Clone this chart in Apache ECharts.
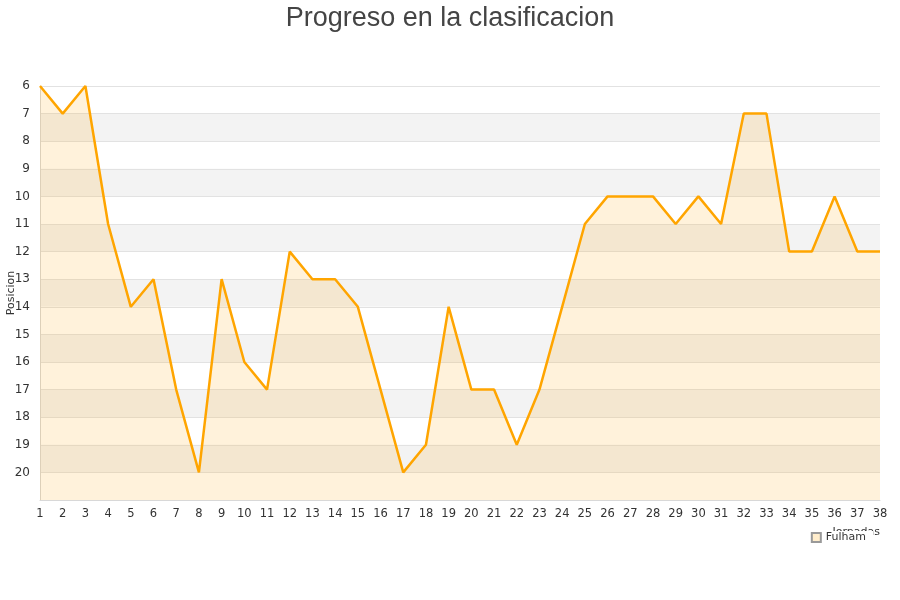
<!DOCTYPE html>
<html>
<head>
<meta charset="utf-8">
<script src="https://cdn.jsdelivr.net/npm/echarts@6/dist/echarts.min.js"></script>
<style>html,body{margin:0;padding:0;background:#fff}#c{width:900px;height:600px}</style>
</head>
<body>
<div id="c"></div>
<script>
var jornadas = ['1','2','3','4','5','6','7','8','9','10','11','12','13','14','15','16','17','18','19','20','21','22','23','24','25','26','27','28','29','30','31','32','33','34','35','36','37','38'];
var fulham = [6,7,6,11,14,13,17,20,13,16,17,12,13,13,14,17,20,19,14,17,17,19,17,14,11,10,10,10,11,10,11,7,7,12,12,10,12,12];
var seriesName = 'Fulham';
var titleText = 'Progreso en la clasificacion';

var chart = echarts.init(document.getElementById('c'), null, {renderer: 'canvas'});
chart.setOption({
  animation: false,
  backgroundColor: '#fff',
  title: {
    text: titleText, left: 'center', top: 0,
    textStyle: {fontFamily: 'Liberation Sans, Arial, sans-serif', fontSize: 27, fontWeight: 'normal', color: '#444'}
  },
  legend: {
    data: [{name: seriesName, icon: 'rect'}],
    right: 27, top: 531,
    itemWidth: 9, itemHeight: 9, itemGap: 5,
    backgroundColor: '#fff', padding: [1, 7, 6, 6],
    z: 10,
    textStyle: {fontFamily: 'DejaVu Sans, sans-serif', fontSize: 11, color: '#333'}
  },
  grid: {left: 40, right: 20, top: 86, bottom: 100, containLabel: false, outerBoundsMode: 'none'},
  xAxis: {
    type: 'category', data: jornadas, boundaryGap: false,
    name: 'Jornadas', nameLocation: 'end', nameGap: 0, nameMoveOverlap: false,
    nameTextStyle: {fontFamily: 'DejaVu Sans, sans-serif', fontSize: 11, color: '#333', align: 'right', verticalAlign: 'top', padding: [27, 0, 0, 0]},
    axisLine: {lineStyle: {color: '#d8d8d8'}},
    axisTick: {show: false},
    axisLabel: {fontFamily: 'DejaVu Sans, sans-serif', fontSize: 11.5, color: '#333', margin: 8, interval: 0},
    splitLine: {show: false}
  },
  yAxis: {
    type: 'value', inverse: true, min: 6, max: 21, interval: 1,
    name: 'Posicion', nameLocation: 'middle', nameGap: 23, nameRotate: 90, nameMoveOverlap: false,
    nameTextStyle: {fontFamily: 'DejaVu Sans, sans-serif', fontSize: 11, color: '#333'},
    axisLine: {show: true, lineStyle: {color: '#d8d8d8'}},
    axisTick: {show: false},
    axisLabel: {fontFamily: 'DejaVu Sans, sans-serif', fontSize: 12, color: '#333', margin: 10,
      formatter: function (v) { return v === 21 ? '' : String(v); }},
    splitLine: {show: true, lineStyle: {color: '#e2e2e2', width: 1}},
    splitArea: {show: true, areaStyle: {color: ['#ffffff', '#f3f3f3']}}
  },
  series: [{
    name: seriesName, type: 'line', data: fulham,
    symbol: 'none', smooth: false,
    lineStyle: {color: '#FFA500', width: 2.5},
    itemStyle: {color: 'rgba(255,165,0,0.2)', borderColor: '#999', borderWidth: 1},
    areaStyle: {color: 'rgba(255,165,0,0.2)', origin: 'end'}
  }]
});
</script>
</body>
</html>
